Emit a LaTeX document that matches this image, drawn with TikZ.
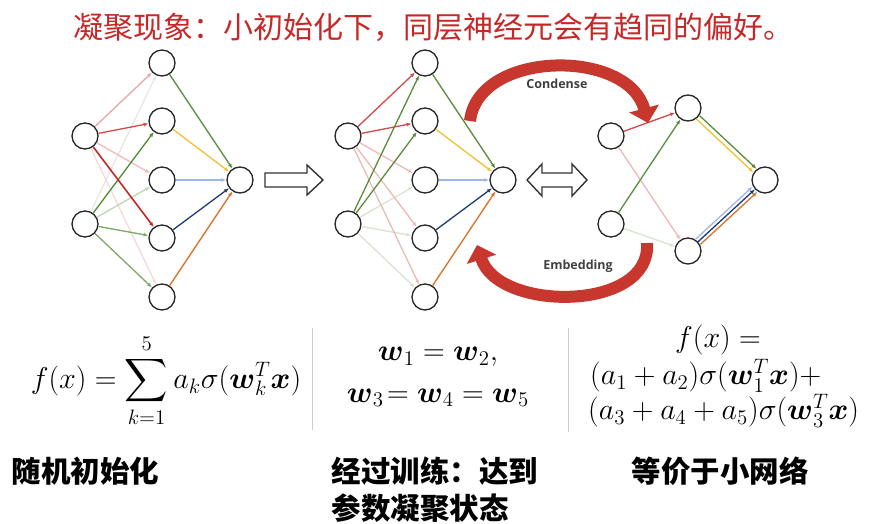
\documentclass[tikz,border=0pt]{standalone}
\usepackage{amsmath}
\usepackage{fontspec}
\newfontfamily\cjk{Noto Sans CJK SC}
\newfontfamily\lblfont{Open Sans}
\usetikzlibrary{arrows.meta}
\definecolor{titlered}{HTML}{C62828}
\definecolor{arrred}{HTML}{C8372D}
\definecolor{pinkA}{HTML}{E8A6A6}
\definecolor{redA}{HTML}{D04A4A}
\definecolor{redB}{HTML}{C62828}
\definecolor{pinkB}{HTML}{EDB8B8}
\definecolor{pinkC}{HTML}{F5D8D8}
\definecolor{grayA}{HTML}{E6E8E2}
\definecolor{greenA}{HTML}{4E8B32}
\definecolor{greenB}{HTML}{BFD4B3}
\definecolor{greenC}{HTML}{7DA865}
\definecolor{greenD}{HTML}{D7E4CF}
\definecolor{greenO}{HTML}{5B8C3A}
\definecolor{goldO}{HTML}{F2C12E}
\definecolor{lblueO}{HTML}{9DB7E6}
\definecolor{dblueO}{HTML}{1F3B73}
\definecolor{orangeO}{HTML}{D9732A}
\definecolor{sepgray}{HTML}{CCCCCC}
\newcommand{\bigmath}[1]{\scalebox{1.45}{#1}}
\begin{document}
\begin{tikzpicture}[x=1pt,y=-1pt,
  neuron/.style={circle,draw=black!85,line width=1.3pt,minimum size=26pt,inner sep=0pt,fill=white},
  ln/.style={line width=1.3pt,-{Latex[length=5pt,width=4pt]}},
  bigarr/.style={arrred,line width=12pt,-{Triangle[length=15pt,width=30pt]}},
  hollow/.style={draw=black!80,line width=1.4pt,fill=white,line join=miter},
  cjktext/.style={font=\cjk\fontsize{30}{34}\selectfont},
  cjkbold/.style={font=\cjk\bfseries\fontsize{29.5}{34}\selectfont},
  mathtext/.style={font=\fontsize{20.74}{25}\selectfont,inner sep=0pt},
  arrlbl/.style={font=\lblfont\bfseries\fontsize{12.5}{14}\selectfont,text=black!75}
]
\useasboundingbox (0,0) rectangle (872,524);

% title
\node[cjktext,text=titlered,anchor=west] (title) at (70,27) {凝聚现象：小初始化下，同层神经元会有趋同的偏好。};

% ---------- network 1 ----------
\node[neuron] (a1) at (85,136) {};
\node[neuron] (a2) at (85,224) {};
\foreach \i/\y in {1/63,2/121,3/180,4/238,5/297}
  \node[neuron] (ah\i) at (162,\y) {};
\node[neuron] (ao) at (240,180) {};
\draw[ln,grayA] (a2) -- (ah1);
\draw[ln,pinkC] (a1) -- (ah5);
\draw[ln,pinkA] (a1) -- (ah1);
\draw[ln,pinkB] (a1) -- (ah3);
\draw[ln,greenB] (a2) -- (ah3);
\draw[ln,greenC] (a2) -- (ah4);
\draw[ln,greenC] (a2) -- (ah5);
\draw[ln,redA] (a1) -- (ah2);
\draw[ln,greenA] (a2) -- (ah2);
\draw[ln,redB,line width=1.6pt] (a1) -- (ah4);
\draw[ln,greenO] (ah1) -- (ao);
\draw[ln,goldO] (ah2) -- (ao);
\draw[ln,lblueO] (ah3) -- (ao);
\draw[ln,dblueO] (ah4) -- (ao);
\draw[ln,orangeO] (ah5) -- (ao);

% hollow right arrow
\draw[hollow] (265,173) -- (307,173) -- (307,165) -- (323,180) -- (307,195) -- (307,187) -- (265,187) -- cycle;

% ---------- network 2 ----------
\node[neuron] (b1) at (348,136) {};
\node[neuron] (b2) at (348,224) {};
\foreach \i/\y in {1/63,2/121,3/180,4/238,5/297}
  \node[neuron] (bh\i) at (425,\y) {};
\node[neuron] (bo) at (503,180) {};
\foreach \i in {3,4,5} {
  \draw[ln,greenD] (b2) -- (bh\i);
  \draw[ln,pinkB] (b1) -- (bh\i);
}
\draw[ln,redA] (b1) -- (bh1);
\draw[ln,redA] (b1) -- (bh2);
\draw[ln,greenO] (b2) -- (bh1);
\draw[ln,greenO] (b2) -- (bh2);
\draw[ln,greenO] (bh1) -- (bo);
\draw[ln,goldO] (bh2) -- (bo);
\draw[ln,lblueO] (bh3) -- (bo);
\draw[ln,dblueO] (bh4) -- (bo);
\draw[ln,orangeO] (bh5) -- (bo);

% double hollow arrow
\draw[hollow] (527,180) -- (542,164) -- (542,173) -- (572,173) -- (572,164) -- (587,180) -- (572,196) -- (572,187) -- (542,187) -- (542,196) -- cycle;

% ---------- network 3 ----------
\node[neuron] (c1) at (611,136) {};
\node[neuron] (c2) at (611,224) {};
\node[neuron] (ch1) at (688,108) {};
\node[neuron] (ch2) at (688,251) {};
\node[neuron] (co) at (765,180) {};
\draw[ln,pinkB] (c1) -- (ch2);
\draw[ln,greenD] (c2) -- (ch2);
\draw[ln,redA] (c1) -- (ch1);
\draw[ln,greenO] (c2) -- (ch1);
\draw[ln,greenO,transform canvas={shift={(1.6,-1.7)}}] (ch1) -- (co);
\draw[ln,goldO,transform canvas={shift={(-1.6,1.7)}}] (ch1) -- (co);
\draw[ln,lblueO,transform canvas={shift={(-2.4,-2.6)}}] (ch2) -- (co);
\draw[ln,dblueO] (ch2) -- (co);
\draw[ln,orangeO,transform canvas={shift={(2.4,2.6)}}] (ch2) -- (co);

% curved arrows
\coordinate (cs) at (470,121);
\coordinate (ce) at (648,123);
\draw[bigarr] (cs) .. controls (478,50) and (628,48) .. (ce);
\node[arrlbl] (cl) at (557,84) {Condense};
\coordinate (es) at (647,243);
\coordinate (ee) at (477,245);
\draw[bigarr] (es) .. controls (652,312) and (498,312) .. (ee);
\node[arrlbl] (el) at (578,266) {Embedding};

% separators
\draw[sepgray,line width=1pt] (312,328) -- (312,430);
\draw[sepgray,line width=1pt] (568,328) -- (568,432);

% formulas
\node[mathtext] (f1) at (166,381) {\bigmath{$\displaystyle f(x)=\sum_{k=1}^{5}a_k\sigma(\boldsymbol{w}_k^T\boldsymbol{x})$}};
\node[mathtext] (f2a) at (438,357) {\bigmath{$\boldsymbol{w}_1=\boldsymbol{w}_2,$}};
\node[mathtext] (f2b) at (438,398) {\bigmath{$\boldsymbol{w}_3\!=\boldsymbol{w}_4=\boldsymbol{w}_5$}};
\node[mathtext] (f3a) at (718,340) {\bigmath{$f(x)=$}};
\node[mathtext,anchor=west] (f3b) at (590,376) {\bigmath{$(a_1+a_2)\sigma(\boldsymbol{w}_1^T\boldsymbol{x})+$}};
\node[mathtext,anchor=west] (f3c) at (588,411) {\bigmath{$(a_3+a_4+a_5)\sigma(\boldsymbol{w}_3^T\boldsymbol{x})$}};

% bottom labels
\node[cjkbold,anchor=west] (l1) at (8,471) {随机初始化};
\node[cjkbold,anchor=west] (l2) at (328,471) {经过训练：达到};
\node[cjkbold,anchor=west] (l3) at (328,508) {参数凝聚状态};
\node[cjkbold,anchor=west] (l4) at (628,471) {等价于小网络};
\end{tikzpicture}
\end{document}
